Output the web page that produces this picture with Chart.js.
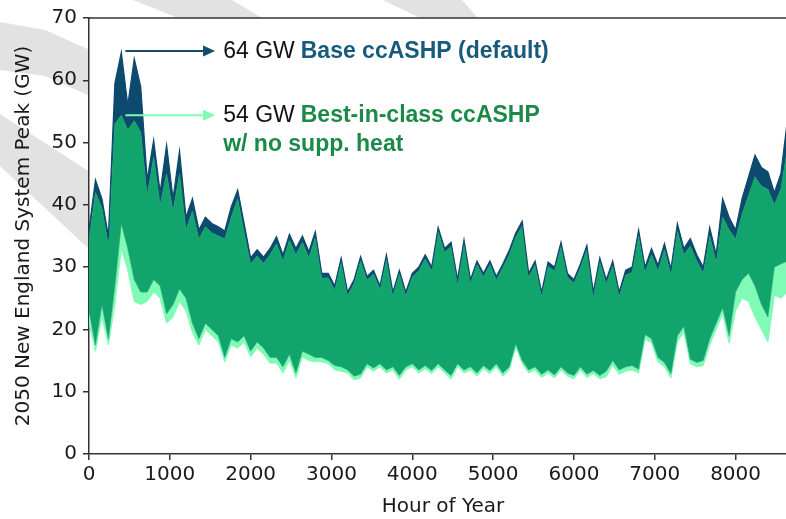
<!DOCTYPE html>
<html>
<head>
<meta charset="utf-8">
<script src="https://cdn.jsdelivr.net/npm/chart.js@4.4.1/dist/chart.umd.min.js"></script>
<style>
  html, body { margin: 0; padding: 0; background: #ffffff; overflow: hidden; }
  #wrap { position: relative; width: 800px; height: 519px; }
</style>
</head>
<body>
<div id="wrap"><canvas id="peakChart"></canvas></div>
<script>
// Hourly load envelope, sampled every 80 hours of the year (values in GW)
const HOUR_STEP = 80;
const xTickValues = [0, 1000, 2000, 3000, 4000, 5000, 6000, 7000, 8000];

// Base ccASHP (default): upper edge of daily swings
const baseMax = [36, 44, 41, 35, 59.5, 64.5, 56, 63.5, 59, 44,
  50.4, 42, 49.6, 41, 48.7, 38, 41, 36, 38, 37,
  36.5, 35.8, 39.7, 42.4, 37, 31.5, 32.8, 31.6, 33, 34.9,
  32, 35.3, 33, 35, 32.5, 35.7, 29, 29, 27, 31.5,
  26, 28, 31.7, 28.5, 29.5, 27, 32, 26, 29.5, 26,
  29, 30, 32, 30, 36.4, 33, 34, 28, 34.4, 28,
  31, 29, 31, 28.5, 30.5, 32.7, 35.5, 37.4, 29, 31,
  26, 30.8, 30, 34, 29, 28, 30.5, 33.5, 26, 31.5,
  28, 31, 26, 29.5, 30, 36, 30, 33, 30.3, 33.8,
  29.7, 37, 33, 34.6, 32, 30, 36.4, 32, 41, 38,
  36, 41, 44.5, 48, 46, 45.3, 42, 45, 53.5, 48];

// Best-in-class ccASHP w/ no supp. heat: upper edge
const bestMax = [34.5, 42, 39.5, 33.5, 53, 54.4, 52, 53.5, 51.7, 41.5,
  47.7, 40, 45, 39, 45, 36, 39, 34.5, 36.5, 35.5,
  35, 34.5, 38, 41, 35.5, 30.5, 31.8, 30.6, 32, 33.8,
  31, 34.3, 32, 34, 31.5, 34.7, 28.2, 28.3, 26.3, 30.8,
  25.4, 27.4, 31, 27.9, 28.9, 26.4, 31.3, 25.4, 28.9, 25.4,
  28.4, 29.4, 31.3, 29.4, 35.7, 32.4, 33.3, 27.4, 33.7, 27.4,
  30.4, 28.4, 30.4, 27.9, 29.9, 32, 34.8, 36.6, 28.4, 30.4,
  25.4, 30.1, 29.4, 33.3, 28.4, 27.4, 29.9, 32.8, 25.4, 30.8,
  27.3, 30.2, 25.3, 28.7, 29.2, 35, 29.2, 32, 29.4, 32.8,
  28.8, 35.8, 32, 33.4, 31, 29, 35, 30.8, 38, 36,
  34.5, 38.5, 41.5, 44.5, 43, 42.5, 40, 42.5, 49, 45];

// Base ccASHP: lower edge
const baseMin = [23, 17.5, 24, 18.5, 27, 37, 33, 28, 26, 26,
  28, 27, 22.5, 24, 26.5, 25, 21, 18.5, 21, 20,
  19, 15.5, 18.5, 18, 19, 16.5, 18, 17, 15.5, 15.5,
  14, 16, 13, 16.5, 16, 15.5, 15.5, 15, 14.2, 14,
  13.5, 12.5, 12.8, 14.5, 13.8, 14.5, 13.5, 14, 12.6, 14,
  14.5, 13.5, 14.2, 13.4, 14.5, 13.5, 12.6, 14.5, 13.5, 14,
  13, 14.2, 13.4, 14.5, 13, 14, 17.7, 15, 13.5, 14,
  12.8, 13.5, 12.7, 14, 13, 12.6, 14, 12.8, 13.4, 12.6,
  13.3, 15, 13.5, 14, 14.2, 13.6, 19.2, 18.5, 15.5, 14.7,
  12.9, 19, 20.5, 15.2, 14.7, 15, 18.5, 21, 23.5, 19,
  26, 28, 29, 27, 24, 22, 30, 30.5, 31, 30];

// Best-in-class ccASHP: lower edge
const bestMin = [21, 16.5, 22, 17.5, 24, 33, 29.5, 24.5, 24, 24.5,
  26, 25, 21, 22, 24.5, 23, 19.5, 17.5, 20, 19,
  18, 14.8, 17.5, 17, 18, 15.6, 17, 16, 14.6, 14.6,
  13, 15, 12.2, 15.6, 15, 14.8, 14.8, 14.5, 13.5, 13.3,
  13, 11.9, 12.2, 14, 13.3, 14, 13, 13.5, 12, 13.5,
  14, 13, 13.7, 12.9, 14, 13, 12, 14, 13, 13.5,
  12.5, 13.7, 12.9, 14, 12.5, 13.5, 17.2, 14.5, 13, 13.5,
  12.3, 13, 12.2, 13.5, 12.5, 12.1, 13.5, 12.3, 12.9, 12.1,
  12.4, 14.3, 12.8, 13.3, 13.5, 13, 18.5, 17.8, 14.8, 14,
  12.2, 18, 19.6, 14.5, 14, 14.2, 17.5, 20, 22.5, 17.8,
  23, 25, 24.5, 22, 20, 18, 25.5, 25, 26, 25];

const hours = baseMax.map((_, i) => i * HOUR_STEP);

// Annotated peaks
const basePeak = 64.7;
const bestPeak = 54.4;
const annotationLines = ['64 GW', 'Base ccASHP (default)', '54 GW', 'Best-in-class ccASHP', 'w/ no supp. heat'];

const NAVY = '#0c4a6e';
const GREEN = '#11a46c';
const MINT = '#80fbb6';
const AXIS = '#333333';
const TEXT = '#1a1a1a';
const TICK_FONT = { family: "'DejaVu Sans', sans-serif", size: 20 };

const pts = arr => arr.map((v, i) => ({ x: hours[i], y: v }));

// grey watermark swooshes behind the figure (only outside the axes)
const watermark = {
    id: 'watermark',
    beforeDraw(chart) {
        const { ctx, chartArea: a } = chart;
        ctx.save();
        ctx.fillStyle = '#ffffff';
        ctx.fillRect(0, 0, chart.width, chart.height);
        ctx.fillStyle = '#e2e2e2';
        const polys = [
            [[0, 22], [45, 30], [90, 50], [90, 96], [45, 76], [0, 70]],
            [[0, 114], [90, 172], [90, 250], [0, 166]],
            [[133, 0], [232, 0], [262, 18], [178, 18]],
            [[383, 0], [462, 0], [478, 18], [420, 18]]
        ];
        polys.forEach(p => {
            ctx.beginPath();
            ctx.moveTo(p[0][0], p[0][1]);
            p.slice(1).forEach(q => ctx.lineTo(q[0], q[1]));
            ctx.closePath();
            ctx.fill();
        });
        ctx.fillStyle = '#ffffff';
        ctx.fillRect(a.left, a.top, a.right - a.left, a.bottom - a.top);
        ctx.restore();
    }
};

// top spine, arrows and the text labels
const annotations = {
    id: 'annotations',
    afterDraw(chart) {
        const { ctx, chartArea: a, scales: { x, y } } = chart;
        ctx.save();
        ctx.strokeStyle = AXIS;
        ctx.lineWidth = 1.5;
        ctx.beginPath();
        ctx.moveTo(a.left - 0.75, a.top);
        ctx.lineTo(a.right, a.top);
        ctx.stroke();

        const x0 = x.getPixelForValue(450);
        const x1 = x.getPixelForValue(1560);
        const tx = x.getPixelForValue(1660);

        function arrow(py, color) {
            ctx.strokeStyle = color;
            ctx.fillStyle = color;
            ctx.lineWidth = 2;
            ctx.beginPath();
            ctx.moveTo(x0, py);
            ctx.lineTo(x1 - 10, py);
            ctx.stroke();
            ctx.beginPath();
            ctx.moveTo(x1, py);
            ctx.lineTo(x1 - 12, py - 5.5);
            ctx.lineTo(x1 - 12, py + 5.5);
            ctx.closePath();
            ctx.fill();
        }

        const y1 = y.getPixelForValue(basePeak);
        const y2 = y.getPixelForValue(bestPeak);
        arrow(y1, '#164b6c');
        arrow(y2, MINT);

        ctx.textBaseline = 'middle';
        ctx.textAlign = 'left';
        ctx.font = '23px "Liberation Sans", Arial, sans-serif';
        ctx.fillStyle = '#111111';
        ctx.fillText(annotationLines[0], tx, y1 + 1);
        const w1 = ctx.measureText(annotationLines[0]).width;
        ctx.fillText(annotationLines[2], tx, y2);
        const w2 = ctx.measureText(annotationLines[2]).width;

        ctx.font = 'bold 23px "Liberation Sans", Arial, sans-serif';
        ctx.fillStyle = '#175a7d';
        ctx.fillText(annotationLines[1], tx + w1 + 6, y1 + 1);
        ctx.fillStyle = '#1b8a48';
        ctx.fillText(annotationLines[3], tx + w2 + 6, y2);
        ctx.fillText(annotationLines[4], tx, y2 + 29);
        ctx.restore();
    }
};

const band = (label, data, line, fillColor, width) => ({
    label,
    data: pts(data),
    borderColor: line,
    borderWidth: width,
    backgroundColor: fillColor || 'transparent',
    fill: fillColor ? '-1' : false
});

new Chart(document.getElementById('peakChart'), {
    type: 'line',
    data: {
        datasets: [
            band('Base ccASHP max', baseMax, NAVY, null, 1.2),
            band('Best-in-class max', bestMax, GREEN, NAVY, 0.6),
            band('Base ccASHP min', baseMin, GREEN, GREEN, 0.6),
            band('Best-in-class min', bestMin, MINT, MINT, 1)
        ]
    },
    options: {
        responsive: true,
        maintainAspectRatio: false,
        animation: false,
        events: [],
        elements: {
            point: { radius: 0 },
            line: { tension: 0 }
        },
        layout: { padding: { top: 18, right: 3, left: 0, bottom: 0 } },
        plugins: {
            legend: { display: false },
            tooltip: { enabled: false }
        },
        scales: {
            x: {
                type: 'linear',
                min: 0,
                max: 8760,
                afterFit: s => { s.height = 65; },
                afterBuildTicks: s => { s.ticks = xTickValues.map(v => ({ value: v })); },
                ticks: {
                    autoSkip: false,
                    maxRotation: 0,
                    padding: 3,
                    color: TEXT,
                    font: TICK_FONT,
                    callback: v => String(v)
                },
                grid: { drawOnChartArea: false, drawTicks: true, tickLength: 6, color: AXIS, lineWidth: 1.5 },
                border: { display: true, color: AXIS, width: 1.5 },
                title: {
                    display: true,
                    text: 'Hour of Year',
                    color: TEXT,
                    font: TICK_FONT,
                    padding: { top: 0, bottom: 0 }
                }
            },
            y: {
                min: 0,
                max: 70,
                afterFit: s => { s.width = 89; },
                ticks: {
                    stepSize: 10,
                    padding: 6,
                    color: TEXT,
                    font: TICK_FONT
                },
                grid: { drawOnChartArea: false, drawTicks: true, tickLength: 6, color: AXIS, lineWidth: 1.5 },
                border: { display: true, color: AXIS, width: 1.5 },
                title: {
                    display: true,
                    text: '2050 New England System Peak (GW)',
                    color: TEXT,
                    font: TICK_FONT,
                    padding: { top: 12, bottom: 0 }
                }
            }
        }
    },
    plugins: [watermark, annotations]
});
</script>
</body>
</html>
